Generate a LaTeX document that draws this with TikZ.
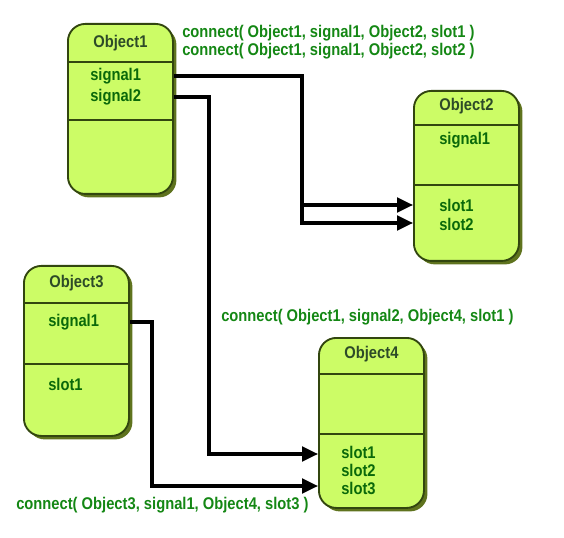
\documentclass[tikz,border=0pt]{standalone}
\usepackage{fontspec}
\setmainfont{Liberation Sans}
\newfontfamily\dfont[FakeStretch=0.87]{Liberation Sans Bold}
\usetikzlibrary{arrows.meta,shadows}
\definecolor{boxfill}{RGB}{204,252,102}
\definecolor{boxborder}{RGB}{50,70,15}
\definecolor{shadowcol}{RGB}{95,115,30}
\definecolor{rowtext}{RGB}{10,105,10}
\definecolor{titletext}{RGB}{45,75,40}
\definecolor{lbltext}{RGB}{20,135,20}
\begin{document}
\begin{tikzpicture}[x=0.75pt,y=-0.75pt,
  objbox/.style={draw=boxborder, line width=1.4pt, fill=boxfill,
    rounded corners=13pt, minimum width=78.75pt, minimum height=127.5pt,
    inner sep=0pt, anchor=north west,
    drop shadow={shadow xshift=2.6pt, shadow yshift=-2.6pt, fill=shadowcol, opacity=1}},
  sepline/.style={draw=boxborder, line width=0.9pt},
  titlelbl/.style={font=\dfont\fontsize{12.7pt}{14pt}\selectfont, text=titletext, inner sep=0pt},
  rowlbl/.style={font=\dfont\fontsize{12.7pt}{14pt}\selectfont, text=rowtext, inner sep=0pt, anchor=west},
  conlbl/.style={font=\dfont\fontsize{12.7pt}{14pt}\selectfont, text=lbltext, inner sep=0pt, anchor=west},
  conn/.style={line width=2.4pt, black, -{Triangle[length=12pt,width=11pt]}},
  plain/.style={line width=2.4pt, black}]
\useasboundingbox (0,0) rectangle (564,538);

% Object1
\node[objbox] (o1) at (67,23) {};
\node[titlelbl] (o1t) at (o1.north |- 0,43) {Object1};
\draw[sepline] (o1.west |- 0,62) -- (o1.east |- 0,62);
\node[rowlbl] (o1s1) at (90,76) {signal1};
\node[rowlbl] (o1s2) at (90,97) {signal2};
\draw[sepline] (o1.west |- 0,120) -- (o1.east |- 0,120);

% Object2
\node[objbox] (o2) at (413,90) {};
\node[titlelbl] (o2t) at (o2.north |- 0,106) {Object2};
\draw[sepline] (o2.west |- 0,125) -- (o2.east |- 0,125);
\node[rowlbl] (o2s1) at (439,140) {signal1};
\draw[sepline] (o2.west |- 0,185) -- (o2.east |- 0,185);
\node[rowlbl] (o2l1) at (439,205) {slot1};
\node[rowlbl] (o2l2) at (439,224) {slot2};

% Object3
\node[objbox] (o3) at (23,265) {};
\node[titlelbl] (o3t) at (o3.north |- 0,283) {Object3};
\draw[sepline] (o3.west |- 0,303) -- (o3.east |- 0,303);
\node[rowlbl] (o3s1) at (48,322) {signal1};
\draw[sepline] (o3.west |- 0,364) -- (o3.east |- 0,364);
\node[rowlbl] (o3l1) at (48,384) {slot1};

% Object4
\node[objbox] (o4) at (318,337) {};
\node[titlelbl] (o4t) at (o4.north |- 0,354) {Object4};
\draw[sepline] (o4.west |- 0,374) -- (o4.east |- 0,374);
\draw[sepline] (o4.west |- 0,434) -- (o4.east |- 0,434);
\node[rowlbl] (o4l1) at (341,452) {slot1};
\node[rowlbl] (o4l2) at (341,470) {slot2};
\node[rowlbl] (o4l3) at (341,488) {slot3};

% ports
\coordinate (o1p1) at (o1.east |- 0,76);
\coordinate (o1p2) at (o1.east |- 0,97);
\coordinate (o3p1) at (o3.east |- 0,322);
\coordinate (o2in1) at (o2.west |- 0,205);
\coordinate (o2in2) at (o2.west |- 0,223);
\coordinate (o4in1) at (o4.west |- 0,454);
\coordinate (o4in3) at (o4.west |- 0,486);
\coordinate (jA) at (302,205);
\coordinate (jB) at (209,0);
\coordinate (jC) at (152,0);

% connectors
\draw[conn] (o1p1) -| (jA) -- (o2in1);
\draw[conn] (jA) |- (o2in2);
\draw[conn] (o1p2) -| (jB |- o4in1) -- (o4in1);
\draw[conn] (o3p1) -| (jC |- o4in3) -- (o4in3);

% labels
\node[conlbl] (c1) at (182,33) {connect( Object1, signal1, Object2, slot1 )};
\node[conlbl] (c2) at (182,51) {connect( Object1, signal1, Object2, slot2 )};
\node[conlbl] (c3) at (221,317) {connect( Object1, signal2, Object4, slot1 )};
\node[conlbl] (c4) at (16,505) {connect( Object3, signal1, Object4, slot3 )};
\end{tikzpicture}
\end{document}
